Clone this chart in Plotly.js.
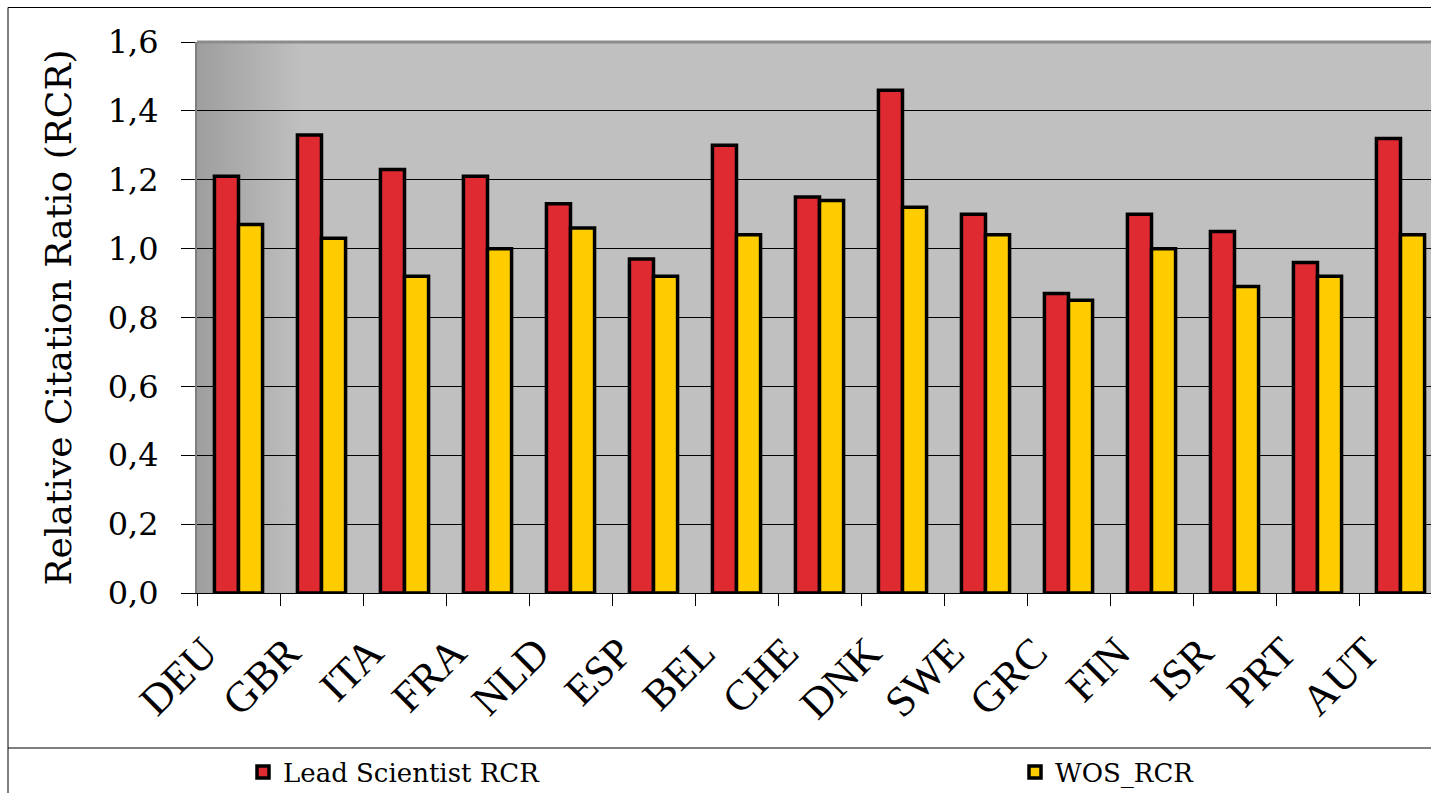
<!DOCTYPE html>
<html>
<head>
<meta charset="utf-8">
<script src="https://cdn.plot.ly/plotly-3.0.1.min.js"></script>
<style>
html,body{margin:0;padding:0;overflow:hidden;background:#fff;}
#chart{width:1446px;height:793px;}
</style>
</head>
<body>
<div id="chart"></div>
<script>
const categories = ["DEU","GBR","ITA","FRA","NLD","ESP","BEL","CHE","DNK","SWE","GRC","FIN","ISR","PRT","AUT"];
const leadScientistRCR = [1.21,1.33,1.23,1.21,1.13,0.97,1.30,1.15,1.46,1.10,0.87,1.10,1.05,0.96,1.32];
const wosRCR = [1.07,1.03,0.92,1.00,1.06,0.92,1.04,1.14,1.12,1.04,0.85,1.00,0.89,0.92,1.04];
const seriesNames = ["Lead Scientist RCR","WOS_RCR"];
const seriesColors = ["#DF2A31","#FFCC00"];
const yTitle = "Relative Citation Ratio (RCR)";

const W = 1446, H = 793;
const L = 197, T = 42, B = 200, R = W - 1442;
const pw = W - L - R, ph = H - T - B;
const px = v => (v - L) / pw;
const py = v => (H - B - v) / ph;
const cx = v => v / W;
const cy = v => 1 - v / H;

const font = "DejaVu Serif, Georgia, serif";
const fontX = "Liberation Serif, Times New Roman, serif";

const gradSvg = "<svg xmlns='http://www.w3.org/2000/svg' width='1000' height='100' preserveAspectRatio='none'>" +
  "<defs><linearGradient id='g' x1='0' y1='0' x2='1' y2='0'>" +
  "<stop offset='0' stop-color='#9e9e9e'/><stop offset='0.085' stop-color='#c0c0c0'/><stop offset='1' stop-color='#c0c0c0'/>" +
  "</linearGradient></defs><rect width='1000' height='100' fill='url(#g)'/></svg>";
const gradUri = "data:image/svg+xml;charset=utf-8," + encodeURIComponent(gradSvg);

const traces = [
  {type:"bar", name:seriesNames[0], x:categories, y:leadScientistRCR, legend:"legend",
   marker:{color:seriesColors[0], line:{color:"#000", width:3.5}}, hoverinfo:"x+y"},
  {type:"bar", name:seriesNames[1], x:categories, y:wosRCR, legend:"legend2",
   marker:{color:seriesColors[1], line:{color:"#000", width:3.5}}, hoverinfo:"x+y"}
];

const legendBase = {orientation:"h", xref:"container", yref:"container", xanchor:"left", yanchor:"middle",
  font:{family:font, size:26, color:"#000"}, bgcolor:"rgba(0,0,0,0)", borderwidth:0};

const layout = {
  width:W, height:H,
  margin:{l:L, r:R, t:T, b:B, pad:0, autoexpand:false},
  paper_bgcolor:"#ffffff",
  plot_bgcolor:"rgba(0,0,0,0)",
  separators:",.",
  barmode:"group", bargap:0.42, bargroupgap:0,
  font:{family:font, color:"#000"},
  showlegend:true,
  legend:Object.assign({}, legendBase, {x:cx(243), y:cy(772)}),
  legend2:Object.assign({}, legendBase, {x:cx(1015), y:cy(772)}),
  xaxis:{type:"category", categoryorder:"array", categoryarray:categories,
         tickson:"boundaries", ticks:"outside", ticklen:12, tickwidth:1, tickcolor:"#000",
         showline:true, linecolor:"#000", linewidth:1, showgrid:false, zeroline:false,
         tickangle:-45, ticklabelstandoff:16, ticklabelshift:-34,
         tickfont:{family:fontX, size:43, color:"#000"}, fixedrange:true},
  yaxis:{range:[0,1.6], dtick:0.2, tick0:0, tickformat:".1f", ticks:"outside", ticklen:14, tickwidth:1, tickcolor:"#000",
         showline:true, linecolor:"#7f7f7f", linewidth:2, showgrid:true, gridcolor:"#000", gridwidth:1, zeroline:false,
         ticklabelstandoff:16,
         tickfont:{family:font, size:32, color:"#000"},
         title:{text:yTitle, font:{family:font, size:36, color:"#000"}, standoff:25}, fixedrange:true},
  images:[{source:gradUri, xref:"paper", yref:"paper", x:0, y:1, sizex:1, sizey:1, sizing:"stretch", layer:"below"}],
  shapes:[
    {type:"line", xref:"paper", yref:"paper", x0:0, x1:1.01, y0:1, y1:1, line:{color:"#8c8c8c", width:3}},
    {type:"rect", xref:"paper", yref:"paper", x0:px(8), x1:px(1444), y0:py(7.5), y1:py(800), line:{color:"#000", width:1}, fillcolor:"rgba(0,0,0,0)"},
    {type:"line", xref:"paper", yref:"paper", x0:px(8), x1:px(1444), y0:py(748), y1:py(748), line:{color:"#000", width:1}}
  ]
};

Plotly.newPlot("chart", traces, layout, {displayModeBar:false});
</script>
</body>
</html>
